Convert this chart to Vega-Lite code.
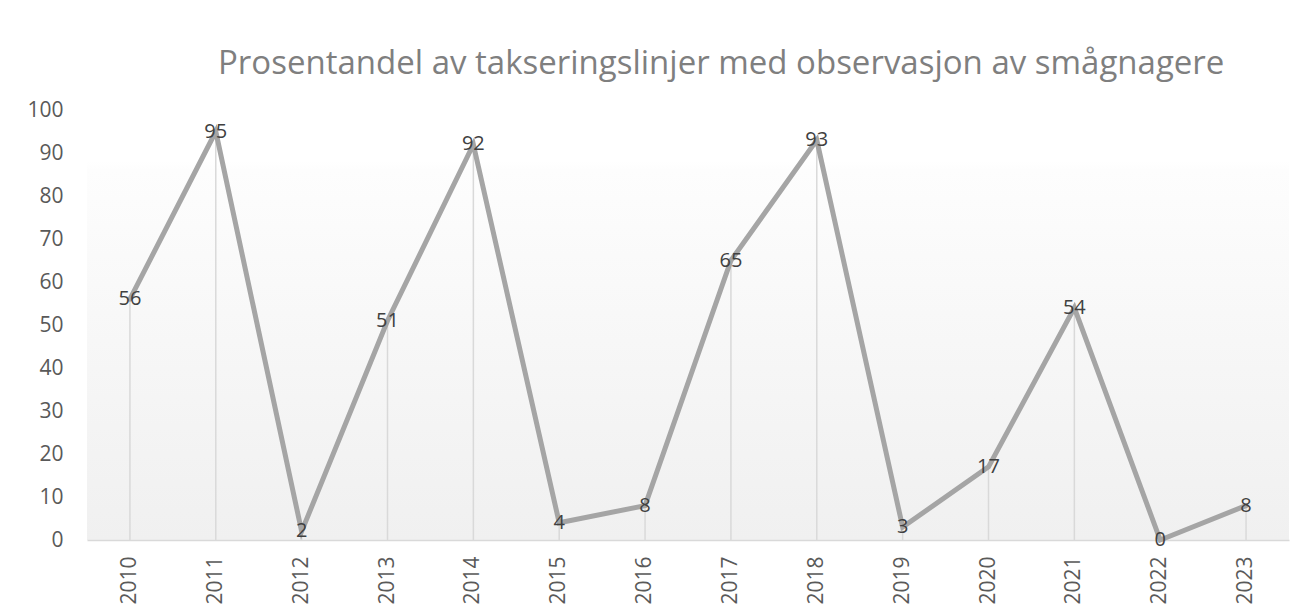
{
  "$schema": "https://vega.github.io/schema/vega-lite/v6.json",
  "width": 1202,
  "height": 430,
  "autosize": {"type": "none"},
  "padding": {"left": 87, "top": 110, "right": 18, "bottom": 75},
  "background": "#ffffff",
  "title": {
    "text": "Prosentandel av takseringslinjer med observasjon av smågnagere",
    "anchor": "start",
    "frame": "group",
    "dx": 131,
    "offset": 18,
    "font": "Open Sans",
    "fontSize": 33,
    "fontWeight": "normal",
    "color": "#7f7f7f"
  },
  "data": {
    "values": [
      {"year": "2010", "value": 56},
      {"year": "2011", "value": 95},
      {"year": "2012", "value": 2},
      {"year": "2013", "value": 51},
      {"year": "2014", "value": 92},
      {"year": "2015", "value": 4},
      {"year": "2016", "value": 8},
      {"year": "2017", "value": 65},
      {"year": "2018", "value": 93},
      {"year": "2019", "value": 3},
      {"year": "2020", "value": 17},
      {"year": "2021", "value": 54},
      {"year": "2022", "value": 0},
      {"year": "2023", "value": 8}
    ]
  },
  "encoding": {
    "x": {
      "field": "year",
      "type": "ordinal",
      "scale": {"paddingInner": 0, "paddingOuter": 0},
      "axis": {
        "title": null,
        "labelAngle": -90,
        "labelFont": "Open Sans",
        "labelFontSize": 21,
        "labelColor": "#595959",
        "labelPadding": 16,
        "ticks": false,
        "domain": true,
        "domainColor": "#d9d9d9",
        "domainWidth": 1.5,
        "grid": false
      }
    },
    "y": {
      "field": "value",
      "type": "quantitative",
      "scale": {"domain": [0, 100], "nice": false},
      "axis": {
        "title": null,
        "values": [0, 10, 20, 30, 40, 50, 60, 70, 80, 90, 100],
        "labelFont": "Open Sans",
        "labelFontSize": 21,
        "labelColor": "#595959",
        "labelPadding": 24,
        "ticks": false,
        "domain": false,
        "grid": false
      }
    }
  },
  "layer": [
    {
      "mark": {"type": "rule", "color": "#d9d9d9", "strokeWidth": 1.5},
      "encoding": {"y2": {"datum": 0}}
    },
    {
      "mark": {"type": "line", "color": "#a5a5a5", "strokeWidth": 5, "strokeCap": "round", "strokeJoin": "miter"}
    },
    {
      "mark": {"type": "text", "font": "Open Sans", "fontSize": 20, "color": "#404040", "align": "center", "baseline": "middle"},
      "encoding": {"text": {"field": "value", "type": "quantitative"}}
    }
  ],
  "config": {
    "view": {
      "stroke": null,
      "fill": {
        "gradient": "linear",
        "x1": 0, "y1": 0, "x2": 0, "y2": 1,
        "stops": [
          {"offset": 0, "color": "#ffffff"},
          {"offset": 0.12, "color": "#ffffff"},
          {"offset": 0.14, "color": "#fdfdfd"},
          {"offset": 1, "color": "#f0f0f0"}
        ]
      }
    }
  }
}
